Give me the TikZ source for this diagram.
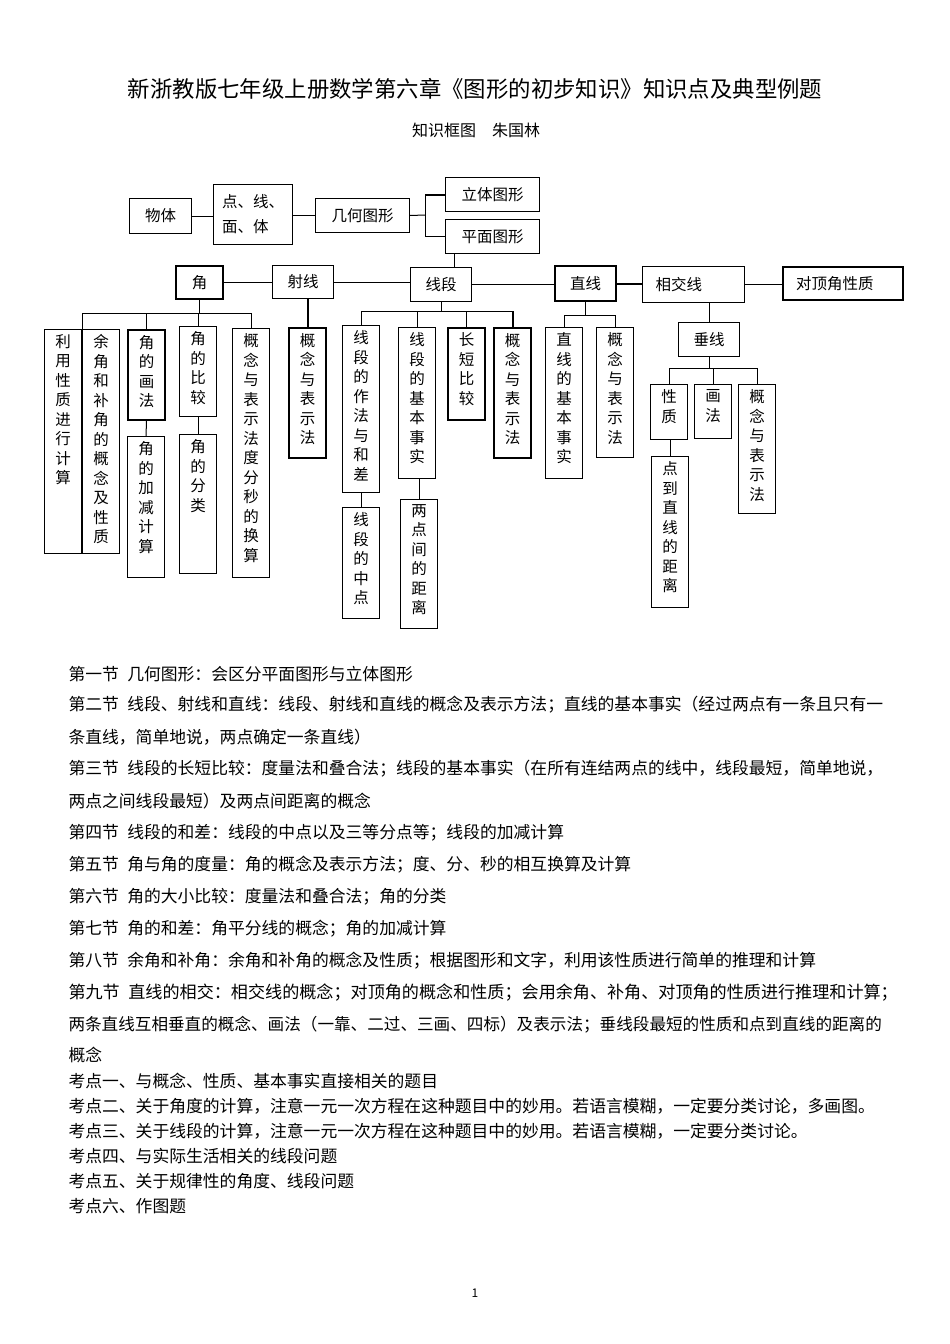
\documentclass[tikz,border=0pt]{standalone}
\usepackage{fontspec}
\setmainfont{Noto Sans CJK SC}
\newcommand{\vcol}[2]{\parbox[c][#1pt][t]{37pt}{\centering\fontsize{15.5}{19.5}\selectfont\vspace*{5pt}#2\par}}
\tikzset{
  hbox/.style={draw, line width=1pt, inner sep=0pt, anchor=north west, font=\fontsize{15.5}{19}\selectfont},
  vbox/.style={draw, line width=1pt, inner sep=0pt, anchor=north west},
  bold/.style={line width=2pt},
  para/.style={anchor=west, inner sep=0pt, font=\fontsize{16.8}{20}\selectfont},
}

\begin{document}
\begin{tikzpicture}[x=1pt,y=-1pt,line width=1pt]
\useasboundingbox[fill=white] (0,0) rectangle (950,1344);

\node[font=\fontsize{22.4}{26}\selectfont] (title) at (475,89) {新浙教版七年级上册数学第六章《图形的初步知识》知识点及典型例题};
\node[font=\fontsize{16}{19}\selectfont] (sub) at (476,130) {知识框图　朱国林};

% top row
\node[hbox, minimum width=62, minimum height=35] (wuti) at (129,198) {物体};
\node[hbox, minimum width=79, minimum height=60, align=left, font=\fontsize{15.5}{25}\selectfont] (dxmt) at (213,184) {点、线、\\面、体};
\node[hbox, minimum width=94, minimum height=34] (jihe) at (315,198) {几何图形};
\node[hbox, minimum width=94, minimum height=34] (liti) at (445,177) {立体图形};
\node[hbox, minimum width=94, minimum height=34] (pingmian) at (445,219) {平面图形};

\draw (wuti.east) -- (wuti.east -| dxmt.west);
\draw (jihe.west) -- (jihe.west -| dxmt.east);
\coordinate (fork) at (425,215);
\draw (jihe.east) -- (fork);
\draw[bold] (liti.west) -- (liti.west -| fork);
\draw (liti.west -| fork) -- (pingmian.west -| fork) -- (pingmian.west);

% second row
\node[hbox, bold, minimum width=47, minimum height=33] (jiao) at (175,265) {角};
\node[hbox, minimum width=61, minimum height=33] (shexian) at (272,265) {射线};
\node[hbox, minimum width=61, minimum height=34] (xianduan) at (410,267) {线段};
\node[hbox, bold, minimum width=61, minimum height=35] (zhixian) at (554,265) {直线};
\node[hbox, minimum width=102, minimum height=36, text width=76, align=left] (xiangjiao) at (642,266) {相交线};
\node[hbox, bold, minimum width=120, minimum height=33, text width=94, align=left] (duiding) at (782,266) {对顶角性质};
\node[hbox, minimum width=61, minimum height=34] (chuixian) at (678,322) {垂线};

\draw ([xshift=13]xianduan.north) -- ([xshift=13]xianduan.north |- pingmian.south);
\draw (jiao.east) -- (jiao.east -| shexian.west);
\draw (shexian.east) -- (shexian.east -| xianduan.west);
\draw (xianduan.east) -- (xianduan.east -| zhixian.west);
\draw[bold] (zhixian.east) -- (zhixian.east -| xiangjiao.west);
\draw (xiangjiao.east) -- (xiangjiao.east -| duiding.west);
\draw (chuixian.north) -- (chuixian.north |- xiangjiao.south);

% angle branch
\node[vbox] (a1) at (44,329) {\vcol{224}{利\\用\\性\\质\\进\\行\\计\\算}};
\node[vbox] (a2) at (82,329) {\vcol{224}{余\\角\\和\\补\\角\\的\\概\\念\\及\\性\\质}};
\node[vbox, bold] (a3) at (127,329) {\vcol{90}{角\\的\\画\\法}};
\node[vbox] (a4) at (127,436) {\vcol{141}{角\\的\\加\\减\\计\\算}};
\node[vbox] (a5) at (179,326) {\vcol{90}{角\\的\\比\\较}};
\node[vbox] (a6) at (179,434) {\vcol{139}{角\\的\\分\\类}};
\node[vbox] (a7) at (232,328) {\vcol{249}{概\\念\\与\\表\\示\\法\\度\\分\\秒\\的\\换\\算}};

\coordinate (jbar) at (198,313);
\draw (jiao.south) -- (jiao.south |- jbar);
\draw (a2.north west |- jbar) -- (a7.north |- jbar);
\draw (a2.north west) -- (a2.north west |- jbar);
\foreach \n in {a3,a5,a7}
  \draw (\n.north) -- (\n.north |- jbar);
\draw (a3.south) -- (a4.north);
\draw (a5.south) -- (a6.north);

% ray branch
\node[vbox, bold] (b1) at (288,327) {\vcol{130}{概\\念\\与\\表\\示\\法}};
\draw[bold] (b1.north) -- (b1.north |- shexian.south);

% segment branch
\node[vbox] (c1) at (342,325) {\vcol{167}{线\\段\\的\\作\\法\\与\\和\\差}};
\node[vbox] (c2) at (342,507) {\vcol{111}{线\\段\\的\\中\\点}};
\node[vbox] (c3) at (398,327) {\vcol{151}{线\\段\\的\\基\\本\\事\\实}};
\node[vbox] (c4) at (400,499) {\vcol{129}{两\\点\\间\\的\\距\\离}};
\node[vbox, bold] (c5) at (447,327) {\vcol{92}{长\\短\\比\\较}};
\node[vbox, bold] (c6) at (493,327) {\vcol{130}{概\\念\\与\\表\\示\\法}};

\coordinate (xbar) at (438,311);
\draw (xianduan.south) -- (xianduan.south |- xbar);
\draw (c1.north |- xbar) -- (c6.north |- xbar);
\foreach \n in {c1,c3,c5}
  \draw (\n.north) -- (\n.north |- xbar);
\draw[bold] (c6.north) -- (c6.north |- xbar);
\draw (c1.south) -- (c2.north);
\draw (c4.north) -- (c4.north |- c3.south);

% line branch
\node[vbox] (d1) at (545,327) {\vcol{151}{直\\线\\的\\基\\本\\事\\实}};
\node[vbox] (d2) at (596,327) {\vcol{130}{概\\念\\与\\表\\示\\法}};

\coordinate (zbar) at (590,315);
\draw (zhixian.south) -- (zhixian.south |- zbar);
\draw (d1.north |- zbar) -- (d2.north |- zbar);
\foreach \n in {d1,d2}
  \draw (\n.north) -- (\n.north |- zbar);

% perpendicular branch
\node[vbox] (e1) at (650,384) {\vcol{55}{性\\质}};
\node[vbox] (e2) at (694,384) {\vcol{54}{画\\法}};
\node[vbox] (e3) at (738,384) {\vcol{129}{概\\念\\与\\表\\示\\法}};
\node[vbox] (e4) at (651,456) {\vcol{151}{点\\到\\直\\线\\的\\距\\离}};

\coordinate (cbar) at (715,368);
\draw (chuixian.south) -- (chuixian.south |- cbar);
\draw (e1.north |- cbar) -- (e3.north |- cbar);
\foreach \n in {e1,e2,e3}
  \draw (\n.north) -- (\n.north |- cbar);
\draw (e4.north) -- (e4.north |- e1.south);

% sections
\node[para] (s1) at (68,674) {第一节\enspace 几何图形：会区分平面图形与立体图形};
\node[para] (s2) at (68,705) {第二节\enspace 线段、射线和直线：线段、射线和直线的概念及表示方法；直线的基本事实（经过两点有一条且只有一};
\node[para] (s2b) at (68,737) {条直线，简单地说，两点确定一条直线）};
\node[para] (s3) at (68,769) {第三节\enspace 线段的长短比较：度量法和叠合法；线段的基本事实（在所有连结两点的线中，线段最短，简单地说，};
\node[para] (s3b) at (68,801) {两点之间线段最短）及两点间距离的概念};
\node[para] (s4) at (68,833) {第四节\enspace 线段的和差：线段的中点以及三等分点等；线段的加减计算};
\node[para] (s5) at (68,865) {第五节\enspace 角与角的度量：角的概念及表示方法；度、分、秒的相互换算及计算};
\node[para] (s6) at (68,897) {第六节\enspace 角的大小比较：度量法和叠合法；角的分类};
\node[para] (s7) at (68,929) {第七节\enspace 角的和差：角平分线的概念；角的加减计算};
\node[para] (s8) at (68,961) {第八节\enspace 余角和补角：余角和补角的概念及性质；根据图形和文字，利用该性质进行简单的推理和计算};
\node[para, font=\fontsize{17.1}{20}\selectfont] (s9) at (68,993) {第九节\enspace 直线的相交：相交线的概念；对顶角的概念和性质；会用余角、补角、对顶角的性质进行推理和计算；};
\node[para, font=\fontsize{16.6}{20}\selectfont] (s9b) at (68,1025) {两条直线互相垂直的概念、画法（一靠、二过、三画、四标）及表示法；垂线段最短的性质和点到直线的距离的};
\node[para] (s9c) at (68,1055) {概念};

% test points
\node[para] (k1) at (68,1081) {考点一、与概念、性质、基本事实直接相关的题目};
\node[para] (k2) at (68,1106) {考点二、关于角度的计算，注意一元一次方程在这种题目中的妙用。若语言模糊，一定要分类讨论，多画图。};
\node[para] (k3) at (68,1131) {考点三、关于线段的计算，注意一元一次方程在这种题目中的妙用。若语言模糊，一定要分类讨论。};
\node[para] (k4) at (68,1156) {考点四、与实际生活相关的线段问题};
\node[para] (k5) at (68,1181) {考点五、关于规律性的角度、线段问题};
\node[para] (k6) at (68,1206) {考点六、作图题};

\node[font=\fontsize{12}{14}\selectfont] (pageno) at (475,1293) {1};
\end{tikzpicture}
\end{document}
